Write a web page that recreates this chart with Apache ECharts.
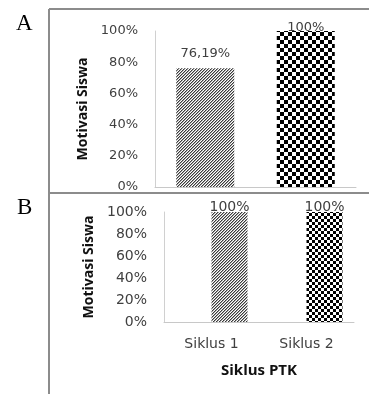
<!DOCTYPE html>
<html><head><meta charset="utf-8">
<script src="https://cdn.jsdelivr.net/npm/echarts@6/dist/echarts.min.js"></script>
<style>
body{margin:0;background:#fff;width:369px;height:394px;overflow:hidden;position:relative}
#wa{position:absolute;left:0;top:0;width:369px;height:192px;overflow:hidden}
#ca{width:369px;height:240px}
#cb{position:absolute;left:0;top:192px;width:369px;height:202px}
</style></head>
<body>
<div id="wa"><div id="ca"></div></div>
<div id="cb"></div>
<script>
// ---- data ----
const categories = ['Siklus 1', 'Siklus 2'];
const valuesA = [76.19, 100];
const labelsA = ['76,19%', '100%'];
const valuesB = [100, 100];
const labelsB = ['100%', '100%'];
const yAxisTitle = 'Motivasi Siswa';
const xAxisTitle = 'Siklus PTK';
const panelLetters = ['A', 'B'];

// ---- fill patterns ----
function hatch() {
  const c = document.createElement('canvas'); c.width = 3; c.height = 3;
  const g = c.getContext('2d');
  for (let x = 0; x < 3; x++) for (let y = 0; y < 3; y++) {
    const k = (x + y) % 3;
    g.fillStyle = k === 0 ? '#3a3a3a' : (k === 1 ? '#a6a6a6' : '#ffffff');
    g.fillRect(x, y, 1, 1);
  }
  return { image: c, repeat: 'repeat' };
}
function checker(s) {
  const c = document.createElement('canvas'); c.width = 2 * s; c.height = 2 * s;
  const g = c.getContext('2d');
  g.fillStyle = '#ffffff'; g.fillRect(0, 0, 2 * s, 2 * s);
  g.fillStyle = '#000000'; g.fillRect(0, 0, s, s); g.fillRect(s, s, s, s);
  return { image: c, repeat: 'repeat' };
}

const frameColor = '#8c8c8c';

function yAxis(margin, gap, fs) {
  return {
    type: 'value', min: 0, max: 100, interval: 20,
    name: yAxisTitle, nameLocation: 'middle', nameGap: gap,
    nameTextStyle: { fontFamily: 'Open Sans', fontWeight: 'bold', fontSize: 14, color: '#111' },
    axisLine: { show: true, lineStyle: { color: '#d0d0d0', width: 1 } },
    axisTick: { show: false }, splitLine: { show: false },
    axisLabel: { formatter: '{value}%', margin: margin, fontFamily: 'DejaVu Sans', fontSize: fs, color: '#404040' }
  };
}

// ---- chart A ----
const patA = [hatch(), checker(4)];
const distA = [8, -3];
const chartA = echarts.init(document.getElementById('ca'), null, { renderer: 'canvas' });
chartA.setOption({
  animation: false,
  grid: { left: 155, top: 31, right: 13, height: 156 },
  xAxis: {
    type: 'category', data: categories,
    axisLine: { lineStyle: { color: '#c8c8c8' } }, axisTick: { show: false },
    axisLabel: { margin: 14, fontFamily: 'DejaVu Sans', fontSize: 14, color: '#404040' }
  },
  yAxis: yAxis(17, 62, 13),
  series: [{
    type: 'bar', barWidth: 58,
    data: valuesA.map((v, i) => ({
      value: v, itemStyle: { color: patA[i] },
      label: { show: true, position: 'top', distance: distA[i], formatter: labelsA[i],
        fontFamily: 'DejaVu Sans', fontSize: 13, color: '#404040' }
    }))
  }],
  graphic: [
    { type: 'line', shape: { x1: 49, y1: 9, x2: 369, y2: 9 }, style: { stroke: frameColor, lineWidth: 2 }, z: 10 },
    { type: 'line', shape: { x1: 49, y1: 9, x2: 49, y2: 240 }, style: { stroke: frameColor, lineWidth: 2 }, z: 10 },
    { type: 'text', left: 16, top: 12, style: { text: panelLetters[0], font: '23px "Liberation Serif"', fill: '#000' } }
  ]
});

// ---- chart B ----
const patB = [hatch(), checker(3)];
const chartB = echarts.init(document.getElementById('cb'), null, { renderer: 'canvas' });
chartB.setOption({
  animation: false,
  grid: { left: 164, top: 20, right: 15, height: 110 },
  xAxis: {
    type: 'category', data: categories,
    name: xAxisTitle, nameLocation: 'middle', nameGap: 41,
    nameTextStyle: { fontFamily: 'Open Sans', fontWeight: 'bold', fontSize: 15, color: '#111' },
    axisLine: { lineStyle: { color: '#c8c8c8' } }, axisTick: { show: false },
    axisLabel: { margin: 15, fontFamily: 'DejaVu Sans', fontSize: 14, color: '#404040' }
  },
  yAxis: yAxis(17, 64, 14),
  series: [
    { type: 'bar', barWidth: 36, barGap: 0, data: categories.map(() => null) },
    {
      type: 'bar', barWidth: 36, barGap: 0,
      data: valuesB.map((v, i) => ({
        value: v, itemStyle: { color: patB[i] },
        label: { show: true, position: 'top', distance: -2, formatter: labelsB[i],
          fontFamily: 'DejaVu Sans', fontSize: 14, color: '#404040' }
      }))
    }
  ],
  graphic: [
    { type: 'line', shape: { x1: 48, y1: 1, x2: 369, y2: 1 }, style: { stroke: frameColor, lineWidth: 2 }, z: 10 },
    { type: 'line', shape: { x1: 49, y1: 0, x2: 49, y2: 202 }, style: { stroke: frameColor, lineWidth: 2 }, z: 10 },
    { type: 'text', left: 17, top: 4, style: { text: panelLetters[1], font: '23px "Liberation Serif"', fill: '#000' } }
  ]
});
</script>
</body></html>
